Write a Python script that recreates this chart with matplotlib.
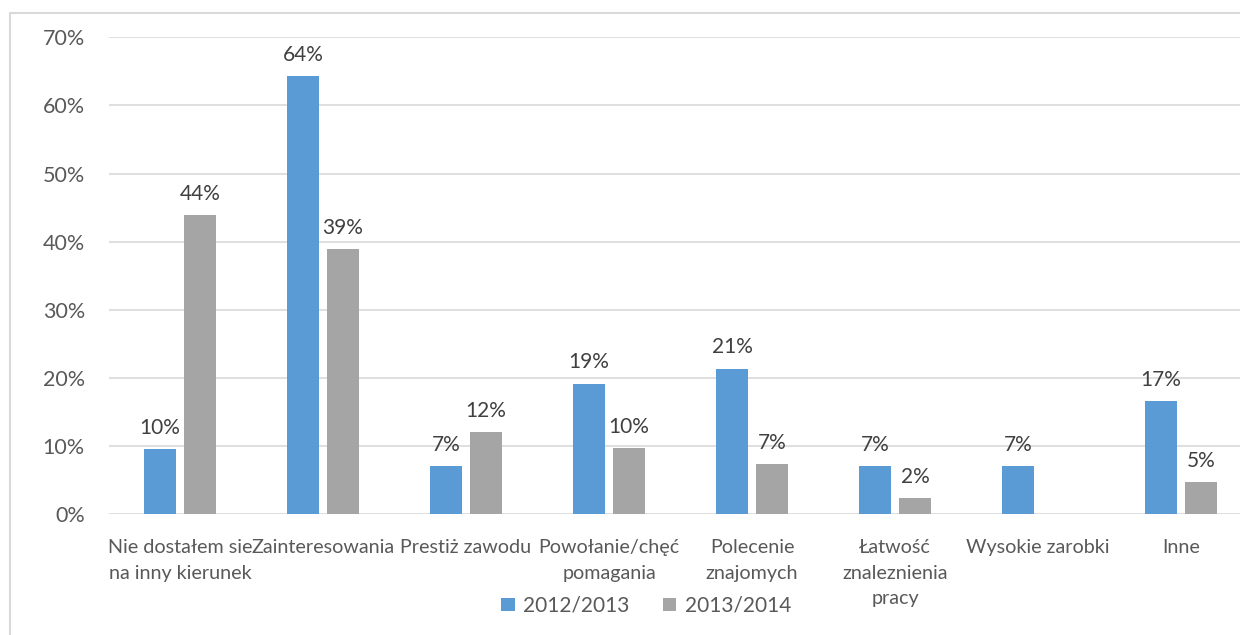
import numpy as np
import matplotlib.pyplot as plt
from matplotlib.patches import Rectangle

# Plot setup
plt.rcParams['font.family'] = ['Lato', 'DejaVu Sans']
txt_col = '#595959'

categories = ['Nie dostałem sie\nna inny kierunek', 'Zainteresowania', 'Prestiż zawodu',
              'Powołanie/chęć\npomagania', 'Polecenie\nznajomych',
              'Łatwość\nznaleznienia\npracy', 'Wysokie zarobki', 'Inne']
y2012 = [9.6, 64.3, 7.1, 19.2, 21.4, 7.1, 7.1, 16.6]
y2013 = [43.9, 38.9, 12.1, 9.7, 7.4, 2.4, np.nan, 4.8]
series_names = ['2012/2013', '2013/2014']
colors = ['#5B9BD5', '#A5A5A5']

fig = plt.figure(figsize=(12.4, 6.35), dpi=100)
# chart frame (only left and top edges fall inside the picture)
fig.patches.append(Rectangle((10/1240, -0.1), 1.2, 0.1 + (635-13)/635, transform=fig.transFigure,
                             fill=False, edgecolor='#d9d9d9', linewidth=1.5))
ax = fig.add_axes([0.0875, 0.190, 0.9226, 0.7512])

x = np.arange(len(categories))
w = 0.224
off = 0.14
for vals, name, c, sgn in zip([y2012, y2013], series_names, colors, [-1, 1]):
    bars = ax.bar(x + sgn*off, vals, w, color=c, label=name, zorder=3)
    for xi, v in zip(x, vals):
        if np.isnan(v):
            continue
        ax.annotate('%.0f%%' % v, (xi + sgn*off, v), xytext=(0, 8), textcoords='offset points',
                    ha='center', va='bottom', fontsize=15, color='#404040')

ax.set_xlim(-0.5, 7.5)
ax.set_ylim(0, 70)
ax.set_yticks(np.arange(0, 71, 10))
ax.set_yticklabels(['%d%%' % t for t in range(0, 71, 10)])
ax.set_xticks(x)
ax.set_xticklabels(categories, linespacing=1.6)
ax.tick_params(axis='y', length=0, pad=17, labelsize=15.5, labelcolor=txt_col)
ax.tick_params(axis='x', length=0, pad=18, labelsize=14.2, labelcolor=txt_col)
ax.grid(axis='y', color='#d9d9d9', linewidth=1.2, zorder=0)
for s in ax.spines.values():
    s.set_visible(False)

fig.legend(loc='center', bbox_to_anchor=(0.521, 0.046), ncol=2, frameon=False,
           fontsize=15, labelcolor=txt_col, handlelength=0.65, handleheight=0.65,
           handletextpad=0.4, columnspacing=1.6)

fig.savefig('out.png', dpi=100)
